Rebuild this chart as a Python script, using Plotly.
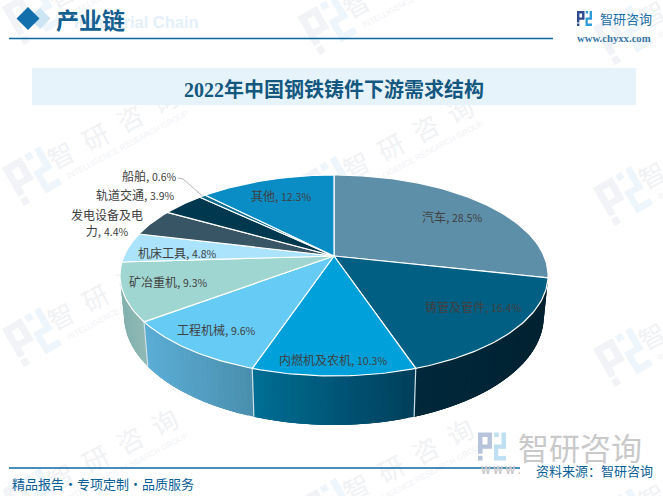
import math
import plotly.graph_objects as go

# Demand structure, clockwise from twelve o'clock
categories = ["汽车", "铸管及管件", "内燃机及农机", "工程机械", "矿冶重机",
              "机床工具", "发电设备及电力", "轨道交通", "船舶", "其他"]
shares = [28.5, 16.4, 10.3, 9.6, 9.3, 4.8, 4.4, 3.9, 0.6, 12.3]

title_text = "2022年中国钢铁铸件下游需求结构"
top_colors = ["#5E8FA8", "#005F82", "#00A0DA", "#66CBF5", "#A0D6D2",
              "#ABE3FD", "#375564", "#00384F", "#0E6C8F", "#0A8DC4"]
# Wall shading, left to right across each visible side panel
wall_colors = {1: ("#00283B", "#002231"), 2: ("#006E94", "#003F5B"),
               3: ("#5BADD6", "#4A8FAD"), 4: ("#82B0AD", "#90BAB6")}

# Label anchors (centre of the text)
label_xy = [(452, 216), (473, 306), (333, 359), (216, 329), (168, 281),
            (177, 252), (107, 222), (135, 194), (149, 175), (281, 195)]

# Perspective disc projection
CX, CY = 334, 256
R, H, K = 210, 96.7, 0.194
WALL = 39.5
BOTTOM_SHRINK = 0.98


def rim(theta):
    u, v = math.sin(theta), math.cos(theta)
    s = 1 / (1 + K * v)
    return CX + R * u * s, CY - H * v * s, s


def rim_low(theta):
    x, y, s = rim(theta)
    return CX + BOTTOM_SHRINK * (x - CX), y + WALL * s


def mix(c0, c1, t):
    a = [int(c0[i:i + 2], 16) for i in (1, 3, 5)]
    b = [int(c1[i:i + 2], 16) for i in (1, 3, 5)]
    return "#%02x%02x%02x" % tuple(round(p + (q - p) * t) for p, q in zip(a, b))


total = sum(shares)
edges = [0.0]
for share in shares:
    edges.append(edges[-1] + share / total * 2 * math.pi)

fig = go.Figure()


def add_poly(xs, ys, fill, line=None, width=0.0):
    fig.add_trace(go.Scatter(x=xs, y=ys, mode="lines", fill="toself", fillcolor=fill,
                             line=dict(color=line or fill, width=width),
                             hoverinfo="skip", showlegend=False))


# Side walls, painted as overlapping strips to carry the horizontal shading
VISIBLE_LEFT = math.radians(255)
for idx, (c0, c1) in wall_colors.items():
    a0, a1 = edges[idx], min(edges[idx + 1], VISIBLE_LEFT)
    n = max(4, int((a1 - a0) / math.radians(1.5)))
    x_right, x_left = rim(a0)[0], rim(a1)[0]
    for k in range(n):
        t0 = a0 + (a1 - a0) * k / n
        t1 = a0 + (a1 - a0) * min(n, k + 3) / n
        arc = [t0 + (t1 - t0) * j / 3 for j in range(4)]
        top = [rim(t) for t in arc]
        low = [rim_low(t) for t in reversed(arc)]
        frac = (rim(t0 + (a1 - a0) / (2 * n))[0] - x_left) / (x_right - x_left)
        xs = [p[0] for p in top] + [q[0] for q in low] + [top[0][0]]
        ys = [p[1] for p in top] + [q[1] for q in low] + [top[0][1]]
        add_poly(xs, ys, mix(c0, c1, frac))

# Pale seams between the wall panels
for idx in (2, 3, 4):
    p, q = rim(edges[idx]), rim_low(edges[idx])
    fig.add_trace(go.Scatter(x=[p[0], q[0]], y=[p[1], q[1]], mode="lines",
                             line=dict(color="#CFE0E6", width=1.2),
                             hoverinfo="skip", showlegend=False))

# Top face of every slice
for i, color in enumerate(top_colors):
    a0, a1 = edges[i], edges[i + 1]
    n = max(3, int((a1 - a0) / math.radians(1)))
    pts = [rim(a0 + (a1 - a0) * k / n) for k in range(n + 1)]
    xs = [CX] + [p[0] for p in pts] + [CX]
    ys = [CY] + [p[1] for p in pts] + [CY]
    add_poly(xs, ys, color, line="#FFFFFF", width=1.2)

# Leader line for the thinnest slice
ship = categories.index("船舶")
mid = rim((edges[ship] + edges[ship + 1]) / 2)
fig.add_trace(go.Scatter(x=[178, 183, mid[0]], y=[178, 179, mid[1]], mode="lines",
                         line=dict(color="#A6A6A6", width=0.8),
                         hoverinfo="skip", showlegend=False))

annotations = []


def note(x, y, text, size, color, family="Noto Sans CJK SC", bold=False, **kw):
    if bold:
        text = f"<b>{text}</b>"
    annotations.append(dict(x=x, y=y, xref="x", yref="y", text=text, showarrow=False,
                            font=dict(size=size, color=color, family=family),
                            xanchor=kw.pop("xanchor", "center"), yanchor="middle", **kw))


for name, share, (lx, ly) in zip(categories, shares, label_xy):
    value = f'<span style="font-size:10.5px">{share}%</span>'
    if name == "发电设备及电力":
        text = f"发电设备及电<br>力, {value}"
    else:
        text = f"{name}, {value}"
    note(lx, ly, text, 12, "#404040")

# Page furniture
shapes = []


def rect_path(rects, ox, oy, size, angle):
    ca, sa = math.cos(angle), math.sin(angle)
    parts = []
    for pts in rects:
        coords = []
        for px, py in pts:
            lx, ly = (px - 0.5) * size, (py - 0.5) * size
            coords.append((ox + lx * ca + ly * sa, oy - lx * sa + ly * ca))
        parts.append("M" + " L".join(f"{a:.1f} {b:.1f}" for a, b in coords) + " Z")
    return " ".join(parts)


def box(x0, y0, x1, y1):
    return [(x0, y0), (x1, y0), (x1, y1), (x0, y1)]


LOGO_LEFT = [[(0, 0), (0.5, 0), (0.5, 0.58), (0.16, 0.58), (0.16, 0.43), (0.34, 0.43),
              (0.34, 0.16), (0.16, 0.16), (0.16, 0.76), (0, 0.76)],
             box(0, 0.83, 0.16, 1)]
LOGO_RIGHT = [box(0.58, 0, 0.74, 0.16),
              [(0.84, 0), (1, 0), (1, 0.58), (0.72, 0.58), (0.72, 0.84), (1, 0.84), (1, 1),
               (0.57, 1), (0.57, 0.43), (0.84, 0.43)]]


def logo(ox, oy, size, angle, c_left, c_right, layer="below"):
    for rects, col in ((LOGO_LEFT, c_left), (LOGO_RIGHT, c_right)):
        shapes.append(dict(type="path", xref="x", yref="y", layer=layer, fillcolor=col,
                           line=dict(width=0), path=rect_path(rects, ox, oy, size, angle)))


def rotated_label(x, y, text, size, color, angle, family="Noto Sans CJK SC"):
    shapes.append(dict(type="line", xref="x", yref="y", layer="below",
                       x0=x - 5, x1=x + 5, y0=y, y1=y, line=dict(width=0),
                       label=dict(text=text, textangle=angle, textposition="middle",
                                  xanchor="center", yanchor="middle",
                                  font=dict(size=size, color=color, family=family))))


# Repeating background mark
for col in range(3):
    for row in range(4):
        ox = 32 + 295.5 * col
        oy = 15 + 10 * col + 161 * row
        logo(ox, oy, 44, math.radians(30), "#F1F3F7", "#EEF6FB")
        rotated_label(ox + 82, oy - 46, "智\u2002研\u2002咨\u2002询", 26, "#F0F2F4", -28)
        rotated_label(ox + 95, oy - 32, "INTELLIGENCE RESEARCH GROUP", 8, "#F0F2F5", -28,
                      family="Liberation Sans")

# Header
note(136, 22, "Industrial Chain", 16.5, "#E3F0FA", family="Liberation Sans", bold=True)
shapes.append(dict(type="path", xref="x", yref="y", layer="below", fillcolor="#CDE4F2", line=dict(width=0),
                   path="M40 8 L50.5 18.5 L40 29 L29.5 18.5 Z"))
shapes.append(dict(type="path", xref="x", yref="y", layer="below", fillcolor="#1170AC", line=dict(width=0),
                   path="M28 7 L39.5 18.5 L28 30 L16.5 18.5 Z"))
note(90, 19, "产业链", 23, "#155F8F", bold=True)
shapes.append(dict(type="line", xref="x", yref="y", layer="below", x0=9, x1=553, y0=38.5, y1=38.5,
                   line=dict(color="#0A68A0", width=1.5)))

logo(584.5, 18.5, 15, 0, "#2F4A8E", "#2F9BD8")
note(626, 18, "智研咨询", 13, "#1A6FA8")
note(614, 38, "www.chyxx.com", 10.7, "#3A78A6", family="Liberation Serif", bold=True)

# Title band
shapes.append(dict(type="rect", xref="x", yref="y", layer="below", x0=32, x1=636, y0=68, y1=105,
                   fillcolor="#E6F3FB", line=dict(width=0)))
note(334, 89, title_text, 20, "#15587F", family="Liberation Serif, Noto Sans CJK SC", bold=True)

# Footer
logo(492, 446.5, 28, 0, "#B8C4DC", "#BFE0F2")
note(580, 446, "智研咨询", 31, "#C9C9C9")
note(501, 470, "W W W .", 10, "#C9C9C9", family="Liberation Sans", bold=True)
shapes.append(dict(type="line", xref="x", yref="y", layer="below", x0=9, x1=520, y0=468, y1=468,
                   line=dict(color="#0A68A0", width=1.3)))
note(594, 470, "资料来源：智研咨询", 13, "#0B5F96")
note(10, 483, "精品报告·专项定制·品质服务", 13, "#0B5F96", xanchor="left")

fig.update_layout(
    width=663, height=496, margin=dict(l=0, r=0, t=0, b=0),
    paper_bgcolor="#FFFFFF", plot_bgcolor="#FFFFFF", showlegend=False,
    xaxis=dict(range=[0, 663], visible=False, fixedrange=True),
    yaxis=dict(range=[496, 0], visible=False, fixedrange=True),
    shapes=shapes, annotations=annotations,
)
fig.write_html("out.html", config=dict(displayModeBar=False))
